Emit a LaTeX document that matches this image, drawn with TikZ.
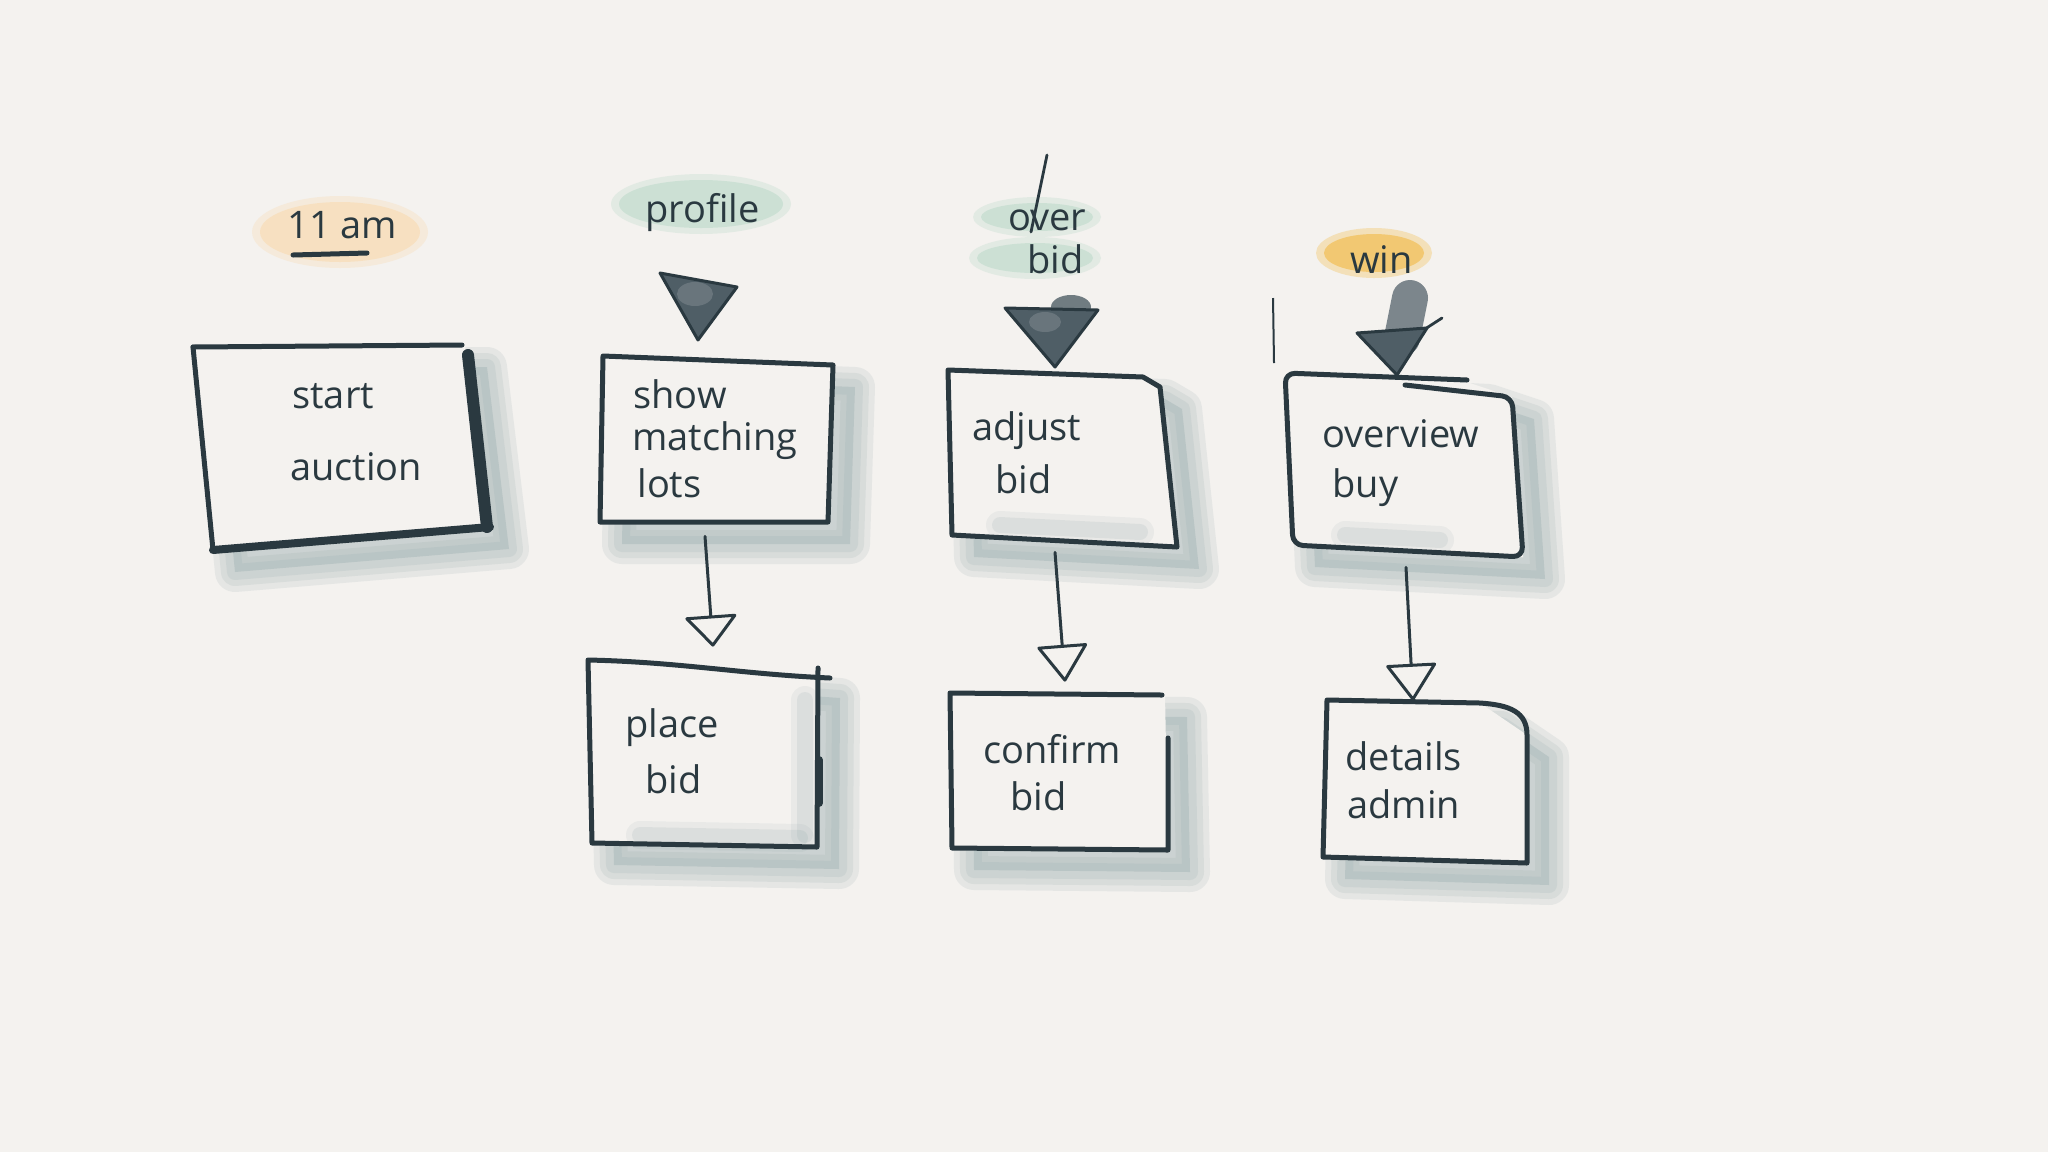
\documentclass[tikz,border=0pt]{standalone}
\usepackage{fontspec}
\setmainfont{Open Sans}
\usetikzlibrary{arrows.meta,calc}
\definecolor{bg}{HTML}{F4F2EF}
\definecolor{ink}{HTML}{2A3940}
\definecolor{shad}{HTML}{8AA1A4}
\definecolor{tri}{HTML}{4F5E66}
\definecolor{orl}{HTML}{F8DDB6}
\definecolor{ors}{HTML}{F2BF55}
\definecolor{grn}{HTML}{C3DDCF}
\newcommand\blob[4]{%
  \fill[#4, opacity=.35] (#1) ellipse [x radius=#2+4pt, y radius=#3+3pt];
  \fill[#4, opacity=.7] (#1) ellipse [x radius=#2, y radius=#3];}
\newcommand\smudge[1]{%
  \draw[shad, opacity=.10, line width=14pt, line cap=round] #1;
  \draw[shad, opacity=.14, line width=8pt, line cap=round] #1;}
\newcommand\softshadow[1]{%
  \begin{scope}[xshift=11pt,yshift=-11pt]
    \foreach \w in {20pt,14pt,8pt} {\draw[shad, opacity=.14, line width=\w, line join=round] #1;}
    \fill[shad, opacity=.28] #1;
  \end{scope}
  \fill[bg] #1;}
\begin{document}
\begin{tikzpicture}[x=0.5pt,y=-0.5pt,
  pen/.style={draw=ink, line width=2.5pt, line join=round, line cap=round},
  thinpen/.style={draw=ink, line width=1.4pt, line cap=round, line join=round},
  txt/.style={anchor=base west, inner sep=0pt, text=ink, font=\fontsize{19}{23}\selectfont},
  boxarea/.style={draw=none, inner sep=0pt},
  conn/.style={draw=ink, line width=1.5pt, line cap=round,
    -{Triangle[open, length=19pt, width=26pt, line width=1.5pt, round]}},
  headfill/.style={fill=tri, draw=ink, line width=1.5pt, line join=round}]
\fill[bg] (0,0) rectangle (2048,1152);
\useasboundingbox (0,0) rectangle (2048,1152);

% ---------- label blobs ----------
\blob{340,232}{40pt}{15pt}{orl}
\blob{701,204}{41pt}{12pt}{grn}
\blob{1037,217}{28pt}{7pt}{grn}
\blob{1035,258}{29pt}{7.5pt}{grn}
\blob{1374,253}{25pt}{9.5pt}{ors}

% ---------- paper with soft shadows ----------
\softshadow{(193,347) -- (465,345) -- (487,527) -- (213,550) -- cycle}
\softshadow{(603,356) -- (833,365) -- (828,522) -- (600,522) -- cycle}
\softshadow{(948,370) -- (1143,377) -- (1160,387) -- (1177,547) -- (952,535) -- cycle}
\softshadow{(1285,373) -- (1467,382) -- (1512,397) -- (1523,557) -- (1293,545) -- cycle}
\softshadow{(588,660) -- (818,676) -- (817,847) -- (592,843) -- cycle}
\softshadow{(950,693) -- (1165,695) -- (1168,850) -- (952,848) -- cycle}
\softshadow{(1327,700) -- (1480,703) -- (1527,735) -- (1527,863) -- (1323,857) -- cycle}
% inner smudges near bottoms
\smudge{(1000,525) -- (1140,532)}
\smudge{(1345,535) -- (1440,540)}
\smudge{(640,835) -- (800,838)}
\smudge{(805,700) -- (805,835)}

% ---------- box areas (named) ----------
\node[boxarea, minimum width=147pt, minimum height=101pt] (startbox) at (340,448) {};
\node[boxarea, minimum width=115pt, minimum height=82pt]  (showbox)  at (717,440) {};
\node[boxarea, minimum width=114pt, minimum height=86pt]  (adjbox)   at (1062,458) {};
\node[boxarea, minimum width=119pt, minimum height=90pt]  (ovbox)    at (1404,465) {};
\node[boxarea, minimum width=115pt, minimum height=92pt]  (placebox) at (705,752) {};
\node[boxarea, minimum width=109pt, minimum height=78pt]  (confbox)  at (1059,772) {};
\node[boxarea, minimum width=102pt, minimum height=81pt]  (detbox)   at (1425,782) {};

% ---------- box outlines ----------
% start auction
\draw[pen] (193,347) -- (462,345);
\draw[pen] (193,347) -- (213,550);
\draw[pen, line width=4pt] (213,550) -- (490,527);
\draw[pen, line width=6pt] (468,355) -- (487,527);
% show matching lots
\draw[pen] (603,356) -- (833,365) -- (828,522) -- (600,522) -- cycle;
% adjust bid
\draw[pen] (948,370) -- (1143,377) -- (1160,387) -- (1177,547) -- (952,535) -- cycle;
% overview buy
\draw[pen, rounded corners=5pt] (1467,380) -- (1285,373) -- (1293,545) -- (1523,557) -- (1512,397) -- (1405,385);
% place bid
\draw[pen] (830,678) .. controls (740,674) and (680,662) .. (588,660) -- (592,843) -- (817,847) -- (818,668);
\draw[pen, line width=4pt] (819,760) -- (819,803);
% confirm bid
\draw[pen] (1162,695) -- (950,693) -- (952,848) -- (1168,850) -- (1168,738);
% details admin
\draw[pen] (1480,703) -- (1327,700) -- (1323,857) -- (1527,863) -- (1527,735) .. controls (1527,712) and (1510,705) .. (1480,703);

% ---------- filled heads ----------
\draw[headfill] (660,273) -- (737,287) -- (698,340) -- cycle;
\fill[white, opacity=.15] (695,294) ellipse [x radius=9pt, y radius=6pt];
\fill[tri!80!bg] (1071,307) ellipse [x radius=10pt, y radius=6pt];
\draw[headfill] (1005,308) -- (1098,310) -- (1055,367) -- cycle;
\fill[white, opacity=.15] (1045,322) ellipse [x radius=8pt, y radius=5pt];
\draw[line width=18pt, color=tri!85!bg, opacity=.85, line cap=round] (1410,298) -- (1402,338);
\draw[headfill] (1357,333) -- (1427,328) -- (1397,375) -- cycle;
\draw[thinpen] (1425,329) -- (1442,318);
\draw[thinpen] (1047,155) -- (1031,232);
\draw[line width=1pt, ink] (1273,298) -- (1274,363);
\draw[pen] (293,255) -- (367,253);

% ---------- texts ----------
\node[txt] (t11am) at (287,238) {11 am};
\node[txt] (tprofile) at (645,222) {profile};
\node[txt] (tover) at (1008,230) {over};
\node[txt] (tobid) at (1027,273) {bid};
\node[txt] (twin) at (1350,273) {win};

\node[txt] (s1) at (292,408) {start};
\node[txt] (s2) at (290,480) {auction};
\node[txt] (m1) at (633,408) {show};
\node[txt] (m2) at (632,450) {matching};
\node[txt] (m3) at (637,497) {lots};
\node[txt] (a1) at (972,440) {adjust};
\node[txt] (a2) at (995,493) {bid};
\node[txt] (o1) at (1322,447) {overview};
\node[txt] (o2) at (1332,497) {buy};
\node[txt] (p1) at (625,737) {place};
\node[txt] (p2) at (645,793) {bid};
\node[txt] (c1) at (983,763) {confirm};
\node[txt] (c2) at (1010,810) {bid};
\node[txt] (d1) at (1345,770) {details};
\node[txt] (d2) at (1347,818) {admin};

% ---------- connectors ----------
\draw[conn, -{Triangle[open, length=16pt, width=27pt, line width=1.5pt, round]}]
  ($(showbox.south)+(-12,14)$) -- ($(placebox.north)+(8,-13)$);
\draw[conn] ($(adjbox.south)+(-7,8)$) -- ($(confbox.north)+(6,-12)$);
\draw[conn] ($(ovbox.south)+(2,12)$) -- ($(detbox.north)+(-12,0)$);
\end{tikzpicture}
\end{document}
